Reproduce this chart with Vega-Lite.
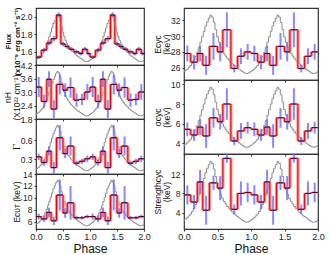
{
"$schema": "https://vega.github.io/schema/vega-lite/v6.json",
"padding": {"left": 2, "top": 6, "right": 2, "bottom": 0},
"config": {
  "view": {"stroke": "#333", "strokeWidth": 1.2},
  "axis": {"grid": false, "domain": false, "tickColor": "#333", "tickSize": 2, "labelFont": "Liberation Sans", "labelFontSize": 8.5, "labelColor": "#222", "labelPadding": 2, "titleFont": "Liberation Sans", "titleFontSize": 8.5, "titleFontWeight": "normal", "titleColor": "#111"}
},
"datasets": {
"prof": [
{"x":0,"n":0.06},{"x":0.025,"n":0.08},{"x":0.05,"n":0.10},{"x":0.075,"n":0.13},{"x":0.1,"n":0.16},{"x":0.125,"n":0.20},{"x":0.15,"n":0.25},{"x":0.175,"n":0.31},{"x":0.2,"n":0.38},{"x":0.225,"n":0.46},
{"x":0.25,"n":0.55},{"x":0.275,"n":0.64},{"x":0.3,"n":0.73},{"x":0.325,"n":0.82},{"x":0.35,"n":0.89},{"x":0.375,"n":0.95},{"x":0.4,"n":1.0},{"x":0.425,"n":0.97},{"x":0.45,"n":0.88},{"x":0.475,"n":0.76},
{"x":0.5,"n":0.64},{"x":0.525,"n":0.55},{"x":0.55,"n":0.47},{"x":0.575,"n":0.41},{"x":0.6,"n":0.36},{"x":0.625,"n":0.32},{"x":0.65,"n":0.28},{"x":0.675,"n":0.25},{"x":0.7,"n":0.22},{"x":0.725,"n":0.19},
{"x":0.75,"n":0.16},{"x":0.775,"n":0.14},{"x":0.8,"n":0.12},{"x":0.825,"n":0.10},{"x":0.85,"n":0.08},{"x":0.875,"n":0.06},{"x":0.9,"n":0.04},{"x":0.925,"n":0.03},{"x":0.95,"n":0.03},{"x":0.975,"n":0.04},
{"x":1,"n":0.06},{"x":1.025,"n":0.08},{"x":1.05,"n":0.10},{"x":1.075,"n":0.13},{"x":1.1,"n":0.16},{"x":1.125,"n":0.20},{"x":1.15,"n":0.25},{"x":1.175,"n":0.31},{"x":1.2,"n":0.38},{"x":1.225,"n":0.46},
{"x":1.25,"n":0.55},{"x":1.275,"n":0.64},{"x":1.3,"n":0.73},{"x":1.325,"n":0.82},{"x":1.35,"n":0.89},{"x":1.375,"n":0.95},{"x":1.4,"n":1.0},{"x":1.425,"n":0.97},{"x":1.45,"n":0.88},{"x":1.475,"n":0.76},
{"x":1.5,"n":0.64},{"x":1.525,"n":0.55},{"x":1.55,"n":0.47},{"x":1.575,"n":0.41},{"x":1.6,"n":0.36},{"x":1.625,"n":0.32},{"x":1.65,"n":0.28},{"x":1.675,"n":0.25},{"x":1.7,"n":0.22},{"x":1.725,"n":0.19},
{"x":1.75,"n":0.16},{"x":1.775,"n":0.14},{"x":1.8,"n":0.12},{"x":1.825,"n":0.10},{"x":1.85,"n":0.08},{"x":1.875,"n":0.06},{"x":1.9,"n":0.04},{"x":1.925,"n":0.03},{"x":1.95,"n":0.03},{"x":1.975,"n":0.04},
{"x":2,"n":0.06}
],
"bins": [
{"p":"fx","a":0,"b":0.1,"c":0.05,"v":1.54,"lo":1.52,"hi":1.56},
{"p":"fx","a":0.1,"b":0.2,"c":0.15,"v":1.62,"lo":1.595,"hi":1.645},
{"p":"fx","a":0.2,"b":0.28,"c":0.24,"v":1.7,"lo":1.675,"hi":1.725},
{"p":"fx","a":0.28,"b":0.38,"c":0.33,"v":1.75,"lo":1.72,"hi":1.78},
{"p":"fx","a":0.38,"b":0.46,"c":0.42,"v":2.02,"lo":1.99,"hi":2.05},
{"p":"fx","a":0.46,"b":0.54,"c":0.5,"v":1.69,"lo":1.665,"hi":1.715},
{"p":"fx","a":0.54,"b":0.61,"c":0.575,"v":1.66,"lo":1.635,"hi":1.685},
{"p":"fx","a":0.61,"b":0.7,"c":0.655,"v":1.63,"lo":1.605,"hi":1.655},
{"p":"fx","a":0.7,"b":0.8,"c":0.75,"v":1.6,"lo":1.575,"hi":1.625},
{"p":"fx","a":0.8,"b":0.86,"c":0.83,"v":1.58,"lo":1.56,"hi":1.6},
{"p":"fx","a":0.86,"b":0.95,"c":0.905,"v":1.63,"lo":1.605,"hi":1.655},
{"p":"fx","a":0.95,"b":1,"c":0.975,"v":1.58,"lo":1.56,"hi":1.6},
{"p":"fx","a":1,"b":1.1,"c":1.05,"v":1.54,"lo":1.52,"hi":1.56},
{"p":"fx","a":1.1,"b":1.2,"c":1.15,"v":1.62,"lo":1.595,"hi":1.645},
{"p":"fx","a":1.2,"b":1.28,"c":1.24,"v":1.7,"lo":1.675,"hi":1.725},
{"p":"fx","a":1.28,"b":1.38,"c":1.33,"v":1.75,"lo":1.72,"hi":1.78},
{"p":"fx","a":1.38,"b":1.46,"c":1.42,"v":2.02,"lo":1.99,"hi":2.05},
{"p":"fx","a":1.46,"b":1.54,"c":1.5,"v":1.69,"lo":1.665,"hi":1.715},
{"p":"fx","a":1.54,"b":1.61,"c":1.575,"v":1.66,"lo":1.635,"hi":1.685},
{"p":"fx","a":1.61,"b":1.7,"c":1.655,"v":1.63,"lo":1.605,"hi":1.655},
{"p":"fx","a":1.7,"b":1.8,"c":1.75,"v":1.6,"lo":1.575,"hi":1.625},
{"p":"fx","a":1.8,"b":1.86,"c":1.83,"v":1.58,"lo":1.56,"hi":1.6},
{"p":"fx","a":1.86,"b":1.95,"c":1.905,"v":1.63,"lo":1.605,"hi":1.655},
{"p":"fx","a":1.95,"b":2,"c":1.975,"v":1.58,"lo":1.56,"hi":1.6},
{"p":"nh","a":0,"b":0.1,"c":0.05,"v":3.22,"lo":2.77,"hi":3.67},
{"p":"nh","a":0.1,"b":0.2,"c":0.15,"v":2.58,"lo":2.28,"hi":2.88},
{"p":"nh","a":0.2,"b":0.28,"c":0.24,"v":3.57,"lo":3.22,"hi":3.92},
{"p":"nh","a":0.28,"b":0.38,"c":0.33,"v":2.24,"lo":1.84,"hi":2.64},
{"p":"nh","a":0.38,"b":0.5,"c":0.44,"v":3.34,"lo":2.89,"hi":3.79},
{"p":"nh","a":0.5,"b":0.58,"c":0.54,"v":3.08,"lo":2.78,"hi":3.38},
{"p":"nh","a":0.58,"b":0.7,"c":0.64,"v":3.2,"lo":2.75,"hi":3.65},
{"p":"nh","a":0.7,"b":0.8,"c":0.75,"v":2.64,"lo":2.34,"hi":2.94},
{"p":"nh","a":0.8,"b":0.9,"c":0.85,"v":2.67,"lo":2.42,"hi":2.92},
{"p":"nh","a":0.9,"b":1,"c":0.95,"v":3.0,"lo":2.65,"hi":3.35},
{"p":"nh","a":1,"b":1.1,"c":1.05,"v":3.22,"lo":2.77,"hi":3.67},
{"p":"nh","a":1.1,"b":1.2,"c":1.15,"v":2.58,"lo":2.28,"hi":2.88},
{"p":"nh","a":1.2,"b":1.28,"c":1.24,"v":3.57,"lo":3.22,"hi":3.92},
{"p":"nh","a":1.28,"b":1.38,"c":1.33,"v":2.24,"lo":1.84,"hi":2.64},
{"p":"nh","a":1.38,"b":1.5,"c":1.44,"v":3.34,"lo":2.89,"hi":3.79},
{"p":"nh","a":1.5,"b":1.58,"c":1.54,"v":3.08,"lo":2.78,"hi":3.38},
{"p":"nh","a":1.58,"b":1.7,"c":1.64,"v":3.2,"lo":2.75,"hi":3.65},
{"p":"nh","a":1.7,"b":1.8,"c":1.75,"v":2.64,"lo":2.34,"hi":2.94},
{"p":"nh","a":1.8,"b":1.9,"c":1.85,"v":2.67,"lo":2.42,"hi":2.92},
{"p":"nh","a":1.9,"b":2,"c":1.95,"v":3.0,"lo":2.65,"hi":3.35},
{"p":"ga","a":0,"b":0.1,"c":0.05,"v":0.34,"lo":0.29,"hi":0.39},
{"p":"ga","a":0.1,"b":0.2,"c":0.15,"v":0.25,"lo":0.2,"hi":0.3},
{"p":"ga","a":0.2,"b":0.28,"c":0.24,"v":0.43,"lo":0.36,"hi":0.5},
{"p":"ga","a":0.28,"b":0.38,"c":0.33,"v":0.17,"lo":0.08,"hi":0.26},
{"p":"ga","a":0.38,"b":0.5,"c":0.44,"v":0.64,"lo":0.44,"hi":0.84},
{"p":"ga","a":0.5,"b":0.58,"c":0.54,"v":0.39,"lo":0.32,"hi":0.46},
{"p":"ga","a":0.58,"b":0.7,"c":0.64,"v":0.51,"lo":0.36,"hi":0.66},
{"p":"ga","a":0.7,"b":0.8,"c":0.75,"v":0.24,"lo":0.2,"hi":0.28},
{"p":"ga","a":0.8,"b":0.9,"c":0.85,"v":0.27,"lo":0.23,"hi":0.31},
{"p":"ga","a":0.9,"b":1,"c":0.95,"v":0.31,"lo":0.26,"hi":0.36},
{"p":"ga","a":1,"b":1.1,"c":1.05,"v":0.34,"lo":0.29,"hi":0.39},
{"p":"ga","a":1.1,"b":1.2,"c":1.15,"v":0.25,"lo":0.2,"hi":0.3},
{"p":"ga","a":1.2,"b":1.28,"c":1.24,"v":0.43,"lo":0.36,"hi":0.5},
{"p":"ga","a":1.28,"b":1.38,"c":1.33,"v":0.17,"lo":0.08,"hi":0.26},
{"p":"ga","a":1.38,"b":1.5,"c":1.44,"v":0.64,"lo":0.44,"hi":0.84},
{"p":"ga","a":1.5,"b":1.58,"c":1.54,"v":0.39,"lo":0.32,"hi":0.46},
{"p":"ga","a":1.58,"b":1.7,"c":1.64,"v":0.51,"lo":0.36,"hi":0.66},
{"p":"ga","a":1.7,"b":1.8,"c":1.75,"v":0.24,"lo":0.2,"hi":0.28},
{"p":"ga","a":1.8,"b":1.9,"c":1.85,"v":0.27,"lo":0.23,"hi":0.31},
{"p":"ga","a":1.9,"b":2,"c":1.95,"v":0.31,"lo":0.26,"hi":0.36},
{"p":"ct","a":0,"b":0.1,"c":0.05,"v":6.9,"lo":6.4,"hi":7.4},
{"p":"ct","a":0.1,"b":0.2,"c":0.15,"v":6.5,"lo":6.0,"hi":7.0},
{"p":"ct","a":0.2,"b":0.28,"c":0.24,"v":7.6,"lo":6.8,"hi":8.4},
{"p":"ct","a":0.28,"b":0.38,"c":0.33,"v":6.2,"lo":5.5,"hi":6.9},
{"p":"ct","a":0.38,"b":0.5,"c":0.44,"v":10.5,"lo":7.9,"hi":13.1},
{"p":"ct","a":0.5,"b":0.58,"c":0.54,"v":7.5,"lo":6.7,"hi":8.3},
{"p":"ct","a":0.58,"b":0.7,"c":0.64,"v":9.2,"lo":6.4,"hi":12.0},
{"p":"ct","a":0.7,"b":0.8,"c":0.75,"v":6.7,"lo":6.4,"hi":7.0},
{"p":"ct","a":0.8,"b":0.9,"c":0.85,"v":6.7,"lo":6.4,"hi":7.0},
{"p":"ct","a":0.9,"b":1,"c":0.95,"v":6.9,"lo":6.6,"hi":7.2},
{"p":"ct","a":1,"b":1.1,"c":1.05,"v":6.9,"lo":6.4,"hi":7.4},
{"p":"ct","a":1.1,"b":1.2,"c":1.15,"v":6.5,"lo":6.0,"hi":7.0},
{"p":"ct","a":1.2,"b":1.28,"c":1.24,"v":7.6,"lo":6.8,"hi":8.4},
{"p":"ct","a":1.28,"b":1.38,"c":1.33,"v":6.2,"lo":5.5,"hi":6.9},
{"p":"ct","a":1.38,"b":1.5,"c":1.44,"v":10.5,"lo":7.9,"hi":13.1},
{"p":"ct","a":1.5,"b":1.58,"c":1.54,"v":7.5,"lo":6.7,"hi":8.3},
{"p":"ct","a":1.58,"b":1.7,"c":1.64,"v":9.2,"lo":6.4,"hi":12.0},
{"p":"ct","a":1.7,"b":1.8,"c":1.75,"v":6.7,"lo":6.4,"hi":7.0},
{"p":"ct","a":1.8,"b":1.9,"c":1.85,"v":6.7,"lo":6.4,"hi":7.0},
{"p":"ct","a":1.9,"b":2,"c":1.95,"v":6.9,"lo":6.6,"hi":7.2},
{"p":"ec","a":0,"b":0.1,"c":0.05,"v":27.8,"lo":26.8,"hi":28.8},
{"p":"ec","a":0.1,"b":0.2,"c":0.15,"v":26.7,"lo":25.8,"hi":27.6},
{"p":"ec","a":0.2,"b":0.28,"c":0.24,"v":27.8,"lo":26.8,"hi":28.8},
{"p":"ec","a":0.28,"b":0.38,"c":0.33,"v":26.3,"lo":25.1,"hi":27.5},
{"p":"ec","a":0.38,"b":0.5,"c":0.44,"v":28.7,"lo":27.0,"hi":30.4},
{"p":"ec","a":0.5,"b":0.58,"c":0.54,"v":28.0,"lo":26.8,"hi":29.2},
{"p":"ec","a":0.58,"b":0.7,"c":0.64,"v":30.8,"lo":28.6,"hi":33.0},
{"p":"ec","a":0.7,"b":0.8,"c":0.75,"v":25.9,"lo":25.4,"hi":26.4},
{"p":"ec","a":0.8,"b":0.9,"c":0.85,"v":27.45,"lo":26.45,"hi":28.45},
{"p":"ec","a":0.9,"b":1,"c":0.95,"v":28.0,"lo":27.0,"hi":29.0},
{"p":"ec","a":1,"b":1.1,"c":1.05,"v":27.8,"lo":26.8,"hi":28.8},
{"p":"ec","a":1.1,"b":1.2,"c":1.15,"v":26.7,"lo":25.8,"hi":27.6},
{"p":"ec","a":1.2,"b":1.28,"c":1.24,"v":27.8,"lo":26.8,"hi":28.8},
{"p":"ec","a":1.28,"b":1.38,"c":1.33,"v":26.3,"lo":25.1,"hi":27.5},
{"p":"ec","a":1.38,"b":1.5,"c":1.44,"v":28.7,"lo":27.0,"hi":30.4},
{"p":"ec","a":1.5,"b":1.58,"c":1.54,"v":28.0,"lo":26.8,"hi":29.2},
{"p":"ec","a":1.58,"b":1.7,"c":1.64,"v":30.8,"lo":28.6,"hi":33.0},
{"p":"ec","a":1.7,"b":1.8,"c":1.75,"v":25.9,"lo":25.4,"hi":26.4},
{"p":"ec","a":1.8,"b":1.9,"c":1.85,"v":27.45,"lo":26.45,"hi":28.45},
{"p":"ec","a":1.9,"b":2,"c":1.95,"v":28.0,"lo":27.0,"hi":29.0},
{"p":"sg","a":0,"b":0.1,"c":0.05,"v":5.43,"lo":4.73,"hi":6.13},
{"p":"sg","a":0.1,"b":0.2,"c":0.15,"v":4.85,"lo":4.25,"hi":5.45},
{"p":"sg","a":0.2,"b":0.28,"c":0.24,"v":5.66,"lo":4.86,"hi":6.46},
{"p":"sg","a":0.28,"b":0.38,"c":0.33,"v":4.75,"lo":3.55,"hi":5.95},
{"p":"sg","a":0.38,"b":0.5,"c":0.44,"v":6.6,"lo":5.6,"hi":7.6},
{"p":"sg","a":0.5,"b":0.58,"c":0.54,"v":6.2,"lo":5.4,"hi":7.0},
{"p":"sg","a":0.58,"b":0.7,"c":0.64,"v":8.0,"lo":6.4,"hi":9.6},
{"p":"sg","a":0.7,"b":0.8,"c":0.75,"v":4.24,"lo":3.84,"hi":4.64},
{"p":"sg","a":0.8,"b":0.9,"c":0.85,"v":5.26,"lo":4.46,"hi":6.06},
{"p":"sg","a":0.9,"b":1,"c":0.95,"v":5.6,"lo":5.0,"hi":6.2},
{"p":"sg","a":1,"b":1.1,"c":1.05,"v":5.43,"lo":4.73,"hi":6.13},
{"p":"sg","a":1.1,"b":1.2,"c":1.15,"v":4.85,"lo":4.25,"hi":5.45},
{"p":"sg","a":1.2,"b":1.28,"c":1.24,"v":5.66,"lo":4.86,"hi":6.46},
{"p":"sg","a":1.28,"b":1.38,"c":1.33,"v":4.75,"lo":3.55,"hi":5.95},
{"p":"sg","a":1.38,"b":1.5,"c":1.44,"v":6.6,"lo":5.6,"hi":7.6},
{"p":"sg","a":1.5,"b":1.58,"c":1.54,"v":6.2,"lo":5.4,"hi":7.0},
{"p":"sg","a":1.58,"b":1.7,"c":1.64,"v":8.0,"lo":6.4,"hi":9.6},
{"p":"sg","a":1.7,"b":1.8,"c":1.75,"v":4.24,"lo":3.84,"hi":4.64},
{"p":"sg","a":1.8,"b":1.9,"c":1.85,"v":5.26,"lo":4.46,"hi":6.06},
{"p":"sg","a":1.9,"b":2,"c":1.95,"v":5.6,"lo":5.0,"hi":6.2},
{"p":"st","a":0,"b":0.1,"c":0.05,"v":7.7,"lo":5.7,"hi":9.7},
{"p":"st","a":0.1,"b":0.2,"c":0.15,"v":6.2,"lo":4.7,"hi":7.7},
{"p":"st","a":0.2,"b":0.28,"c":0.24,"v":10.4,"lo":7.9,"hi":12.9},
{"p":"st","a":0.28,"b":0.38,"c":0.33,"v":4.5,"lo":1.5,"hi":7.5},
{"p":"st","a":0.38,"b":0.5,"c":0.44,"v":10.2,"lo":8.7,"hi":11.7},
{"p":"st","a":0.5,"b":0.58,"c":0.54,"v":9.1,"lo":6.6,"hi":11.6},
{"p":"st","a":0.58,"b":0.7,"c":0.64,"v":15.3,"lo":14.4,"hi":16.2},
{"p":"st","a":0.7,"b":0.8,"c":0.75,"v":4.7,"lo":3.7,"hi":5.7},
{"p":"st","a":0.8,"b":0.9,"c":0.85,"v":8.0,"lo":5.5,"hi":10.5},
{"p":"st","a":0.9,"b":1,"c":0.95,"v":8.2,"lo":6.2,"hi":10.2},
{"p":"st","a":1,"b":1.1,"c":1.05,"v":7.7,"lo":5.7,"hi":9.7},
{"p":"st","a":1.1,"b":1.2,"c":1.15,"v":6.2,"lo":4.7,"hi":7.7},
{"p":"st","a":1.2,"b":1.28,"c":1.24,"v":10.4,"lo":7.9,"hi":12.9},
{"p":"st","a":1.28,"b":1.38,"c":1.33,"v":4.5,"lo":1.5,"hi":7.5},
{"p":"st","a":1.38,"b":1.5,"c":1.44,"v":10.2,"lo":8.7,"hi":11.7},
{"p":"st","a":1.5,"b":1.58,"c":1.54,"v":9.1,"lo":6.6,"hi":11.6},
{"p":"st","a":1.58,"b":1.7,"c":1.64,"v":15.3,"lo":14.4,"hi":16.2},
{"p":"st","a":1.7,"b":1.8,"c":1.75,"v":4.7,"lo":3.7,"hi":5.7},
{"p":"st","a":1.8,"b":1.9,"c":1.85,"v":8.0,"lo":5.5,"hi":10.5},
{"p":"st","a":1.9,"b":2,"c":1.95,"v":8.2,"lo":6.2,"hi":10.2}
]
},
"spacing": 1,
"hconcat": [
{"vconcat": [
 {"width": 108, "height": 57,
  "layer": [
   {"data": {"name": "prof"}, "mark": {"type": "line", "interpolate": "step", "color": "#8c8c8c", "strokeWidth": 1},
    "encoding": {"x": {"field": "x", "type": "quantitative", "scale": {"domain": [0, 2], "nice": false, "zero": false}, "axis": null},
                 "y": {"field": "n", "type": "quantitative", "scale": {"domain": [-0.04, 1.14], "nice": false, "zero": false}, "axis": null}}},
   {"data": {"name": "bins"}, "transform": [{"filter": "datum.p == 'fx'"}, {"window": [{"op": "lead", "field": "v", "as": "vn"}], "sort": [{"field": "a"}]}, {"filter": "datum.vn != null"}],
    "mark": {"type": "rule", "color": "#ff8a8a", "strokeWidth": 3},
    "encoding": {"x": {"field": "b", "type": "quantitative", "axis": {"orient": "bottom", "values": [0, 0.5, 1, 1.5, 2], "labels": false, "title": null}},
                 "y": {"field": "v", "type": "quantitative", "scale": {"domain": [1.45, 2.1], "nice": false, "zero": false},
                       "axis": {"orient": "left", "values": [1.6, 1.8, 2.0], "format": ".1f", "minExtent": 14, "maxExtent": 14, "titlePadding": 1, "title": ["Flux", "(x10⁻⁹ erg cm⁻² s⁻¹)"], "titleFontWeight": "bold", "titleFontSize": 7.5, "titleLineHeight": 8.5, "titleY": 33}},
                 "y2": {"field": "vn"}}},
   {"data": {"name": "bins"}, "transform": [{"filter": "datum.p == 'fx'"}, {"window": [{"op": "lead", "field": "v", "as": "vn"}], "sort": [{"field": "a"}]}, {"filter": "datum.vn != null"}],
    "mark": {"type": "rule", "color": "#f00000", "strokeWidth": 1},
    "encoding": {"x": {"field": "b", "type": "quantitative", "axis": null}, "y": {"field": "v", "type": "quantitative", "scale": {"domain": [1.45, 2.1], "nice": false, "zero": false}, "axis": null}, "y2": {"field": "vn"}}},
   {"data": {"name": "bins"}, "transform": [{"filter": "datum.p == 'fx'"}],
    "mark": {"type": "rule", "color": "#f00000", "strokeWidth": 1.3},
    "encoding": {"x": {"field": "a", "type": "quantitative", "axis": null}, "x2": {"field": "b"}, "y": {"field": "v", "type": "quantitative", "scale": {"domain": [1.45, 2.1], "nice": false, "zero": false}, "axis": null}}},
   {"data": {"name": "bins"}, "transform": [{"filter": "datum.p == 'fx'"}],
    "mark": {"type": "rule", "color": "#6c6cff", "strokeWidth": 2, "opacity": 0.8},
    "encoding": {"x": {"field": "c", "type": "quantitative", "axis": null}, "y": {"field": "lo", "type": "quantitative", "scale": {"domain": [1.45, 2.1], "nice": false, "zero": false}, "axis": null}, "y2": {"field": "hi"}}},
   {"data": {"name": "bins"}, "transform": [{"filter": "datum.p == 'fx'"}],
    "mark": {"type": "tick", "orient": "horizontal", "size": 5, "thickness": 1, "color": "#000"},
    "encoding": {"x": {"field": "c", "type": "quantitative", "axis": null}, "y": {"field": "v", "type": "quantitative", "scale": {"domain": [1.45, 2.1], "nice": false, "zero": false}, "axis": null}}}
  ],
  "resolve": {"scale": {"y": "independent"}, "axis": {"x": "independent"}}},
 {"width": 108, "height": 54,
  "layer": [
   {"data": {"name": "prof"}, "mark": {"type": "line", "interpolate": "step", "color": "#8c8c8c", "strokeWidth": 1},
    "encoding": {"x": {"field": "x", "type": "quantitative", "scale": {"domain": [0, 2], "nice": false, "zero": false}, "axis": null},
                 "y": {"field": "n", "type": "quantitative", "scale": {"domain": [-0.04, 1.14], "nice": false, "zero": false}, "axis": null}}},
   {"data": {"name": "bins"}, "transform": [{"filter": "datum.p == 'nh'"}, {"window": [{"op": "lead", "field": "v", "as": "vn"}], "sort": [{"field": "a"}]}, {"filter": "datum.vn != null"}],
    "mark": {"type": "rule", "color": "#ff8a8a", "strokeWidth": 3},
    "encoding": {"x": {"field": "b", "type": "quantitative", "axis": {"orient": "bottom", "values": [0, 0.5, 1, 1.5, 2], "labels": false, "title": null}},
                 "y": {"field": "v", "type": "quantitative", "scale": {"domain": [1.8, 4.2], "nice": false, "zero": false},
                       "axis": {"orient": "left", "values": [1.8, 2.4, 3.0, 3.6, 4.2], "format": ".1f", "minExtent": 14, "maxExtent": 14, "titlePadding": 1, "title": ["nH", "(X10²² cm⁻²)"], "titleLineHeight": 8.5, "titleY": 32}},
                 "y2": {"field": "vn"}}},
   {"data": {"name": "bins"}, "transform": [{"filter": "datum.p == 'nh'"}, {"window": [{"op": "lead", "field": "v", "as": "vn"}], "sort": [{"field": "a"}]}, {"filter": "datum.vn != null"}],
    "mark": {"type": "rule", "color": "#f00000", "strokeWidth": 1},
    "encoding": {"x": {"field": "b", "type": "quantitative", "axis": null}, "y": {"field": "v", "type": "quantitative", "scale": {"domain": [1.8, 4.2], "nice": false, "zero": false}, "axis": null}, "y2": {"field": "vn"}}},
   {"data": {"name": "bins"}, "transform": [{"filter": "datum.p == 'nh'"}],
    "mark": {"type": "rule", "color": "#f00000", "strokeWidth": 1.3},
    "encoding": {"x": {"field": "a", "type": "quantitative", "axis": null}, "x2": {"field": "b"}, "y": {"field": "v", "type": "quantitative", "scale": {"domain": [1.8, 4.2], "nice": false, "zero": false}, "axis": null}}},
   {"data": {"name": "bins"}, "transform": [{"filter": "datum.p == 'nh'"}],
    "mark": {"type": "rule", "color": "#6c6cff", "strokeWidth": 2, "opacity": 0.8},
    "encoding": {"x": {"field": "c", "type": "quantitative", "axis": null}, "y": {"field": "lo", "type": "quantitative", "scale": {"domain": [1.8, 4.2], "nice": false, "zero": false}, "axis": null}, "y2": {"field": "hi"}}},
   {"data": {"name": "bins"}, "transform": [{"filter": "datum.p == 'nh'"}],
    "mark": {"type": "tick", "orient": "horizontal", "size": 5, "thickness": 1, "color": "#000"},
    "encoding": {"x": {"field": "c", "type": "quantitative", "axis": null}, "y": {"field": "v", "type": "quantitative", "scale": {"domain": [1.8, 4.2], "nice": false, "zero": false}, "axis": null}}}
  ],
  "resolve": {"scale": {"y": "independent"}, "axis": {"x": "independent"}}},
 {"width": 108, "height": 55,
  "layer": [
   {"data": {"name": "prof"}, "mark": {"type": "line", "interpolate": "step", "color": "#8c8c8c", "strokeWidth": 1},
    "encoding": {"x": {"field": "x", "type": "quantitative", "scale": {"domain": [0, 2], "nice": false, "zero": false}, "axis": null},
                 "y": {"field": "n", "type": "quantitative", "scale": {"domain": [-0.04, 1.14], "nice": false, "zero": false}, "axis": null}}},
   {"data": {"name": "bins"}, "transform": [{"filter": "datum.p == 'ga'"}, {"window": [{"op": "lead", "field": "v", "as": "vn"}], "sort": [{"field": "a"}]}, {"filter": "datum.vn != null"}],
    "mark": {"type": "rule", "color": "#ff8a8a", "strokeWidth": 3},
    "encoding": {"x": {"field": "b", "type": "quantitative", "axis": {"orient": "bottom", "values": [0, 0.5, 1, 1.5, 2], "labels": false, "title": null}},
                 "y": {"field": "v", "type": "quantitative", "scale": {"domain": [0.07, 0.935], "nice": false, "zero": false},
                       "axis": {"orient": "left", "values": [0.3, 0.6], "format": ".1f", "minExtent": 14, "maxExtent": 14, "titlePadding": 1, "title": "Γ", "titleFont": "Liberation Serif", "titleFontSize": 11}},
                 "y2": {"field": "vn"}}},
   {"data": {"name": "bins"}, "transform": [{"filter": "datum.p == 'ga'"}, {"window": [{"op": "lead", "field": "v", "as": "vn"}], "sort": [{"field": "a"}]}, {"filter": "datum.vn != null"}],
    "mark": {"type": "rule", "color": "#f00000", "strokeWidth": 1},
    "encoding": {"x": {"field": "b", "type": "quantitative", "axis": null}, "y": {"field": "v", "type": "quantitative", "scale": {"domain": [0.07, 0.935], "nice": false, "zero": false}, "axis": null}, "y2": {"field": "vn"}}},
   {"data": {"name": "bins"}, "transform": [{"filter": "datum.p == 'ga'"}],
    "mark": {"type": "rule", "color": "#f00000", "strokeWidth": 1.3},
    "encoding": {"x": {"field": "a", "type": "quantitative", "axis": null}, "x2": {"field": "b"}, "y": {"field": "v", "type": "quantitative", "scale": {"domain": [0.07, 0.935], "nice": false, "zero": false}, "axis": null}}},
   {"data": {"name": "bins"}, "transform": [{"filter": "datum.p == 'ga'"}],
    "mark": {"type": "rule", "color": "#6c6cff", "strokeWidth": 2, "opacity": 0.8},
    "encoding": {"x": {"field": "c", "type": "quantitative", "axis": null}, "y": {"field": "lo", "type": "quantitative", "scale": {"domain": [0.07, 0.935], "nice": false, "zero": false}, "axis": null}, "y2": {"field": "hi"}}},
   {"data": {"name": "bins"}, "transform": [{"filter": "datum.p == 'ga'"}],
    "mark": {"type": "tick", "orient": "horizontal", "size": 5, "thickness": 1, "color": "#000"},
    "encoding": {"x": {"field": "c", "type": "quantitative", "axis": null}, "y": {"field": "v", "type": "quantitative", "scale": {"domain": [0.07, 0.935], "nice": false, "zero": false}, "axis": null}}}
  ],
  "resolve": {"scale": {"y": "independent"}, "axis": {"x": "independent"}}},
 {"width": 108, "height": 55,
  "layer": [
   {"data": {"name": "prof"}, "mark": {"type": "line", "interpolate": "step", "color": "#8c8c8c", "strokeWidth": 1},
    "encoding": {"x": {"field": "x", "type": "quantitative", "scale": {"domain": [0, 2], "nice": false, "zero": false}, "axis": null},
                 "y": {"field": "n", "type": "quantitative", "scale": {"domain": [-0.04, 1.14], "nice": false, "zero": false}, "axis": null}}},
   {"data": {"name": "bins"}, "transform": [{"filter": "datum.p == 'ct'"}, {"window": [{"op": "lead", "field": "v", "as": "vn"}], "sort": [{"field": "a"}]}, {"filter": "datum.vn != null"}],
    "mark": {"type": "rule", "color": "#ff8a8a", "strokeWidth": 3},
    "encoding": {"x": {"field": "b", "type": "quantitative", "axis": {"orient": "bottom", "values": [0, 0.5, 1, 1.5, 2], "format": ".1f", "labelFlush": false, "labelFontSize": 9, "labelPadding": 1, "title": "Phase", "titleFontSize": 12, "titlePadding": 2}},
                 "y": {"field": "v", "type": "quantitative", "scale": {"domain": [4.83, 14], "nice": false, "zero": false},
                       "axis": {"orient": "left", "values": [6, 8, 10, 12, 14], "format": "d", "minExtent": 14, "maxExtent": 14, "titlePadding": 1, "title": "Eᴄᴜᴛ (keV)"}},
                 "y2": {"field": "vn"}}},
   {"data": {"name": "bins"}, "transform": [{"filter": "datum.p == 'ct'"}, {"window": [{"op": "lead", "field": "v", "as": "vn"}], "sort": [{"field": "a"}]}, {"filter": "datum.vn != null"}],
    "mark": {"type": "rule", "color": "#f00000", "strokeWidth": 1},
    "encoding": {"x": {"field": "b", "type": "quantitative", "axis": null}, "y": {"field": "v", "type": "quantitative", "scale": {"domain": [4.83, 14], "nice": false, "zero": false}, "axis": null}, "y2": {"field": "vn"}}},
   {"data": {"name": "bins"}, "transform": [{"filter": "datum.p == 'ct'"}],
    "mark": {"type": "rule", "color": "#f00000", "strokeWidth": 1.3},
    "encoding": {"x": {"field": "a", "type": "quantitative", "axis": null}, "x2": {"field": "b"}, "y": {"field": "v", "type": "quantitative", "scale": {"domain": [4.83, 14], "nice": false, "zero": false}, "axis": null}}},
   {"data": {"name": "bins"}, "transform": [{"filter": "datum.p == 'ct'"}],
    "mark": {"type": "rule", "color": "#6c6cff", "strokeWidth": 2, "opacity": 0.8},
    "encoding": {"x": {"field": "c", "type": "quantitative", "axis": null}, "y": {"field": "lo", "type": "quantitative", "scale": {"domain": [4.83, 14], "nice": false, "zero": false}, "axis": null}, "y2": {"field": "hi"}}},
   {"data": {"name": "bins"}, "transform": [{"filter": "datum.p == 'ct'"}],
    "mark": {"type": "tick", "orient": "horizontal", "size": 5, "thickness": 1, "color": "#000"},
    "encoding": {"x": {"field": "c", "type": "quantitative", "axis": null}, "y": {"field": "v", "type": "quantitative", "scale": {"domain": [4.83, 14], "nice": false, "zero": false}, "axis": null}}}
  ],
  "resolve": {"scale": {"y": "independent"}, "axis": {"x": "independent"}}}
 ], "spacing": 0, "bounds": "flush"},
{"vconcat": [
 {"width": 134, "height": 72,
  "layer": [
   {"data": {"name": "prof"}, "mark": {"type": "line", "interpolate": "step", "color": "#8c8c8c", "strokeWidth": 1},
    "encoding": {"x": {"field": "x", "type": "quantitative", "scale": {"domain": [0, 2], "nice": false, "zero": false}, "axis": null},
                 "y": {"field": "n", "type": "quantitative", "scale": {"domain": [-0.08, 1.12], "nice": false, "zero": false}, "axis": null}}},
   {"data": {"name": "bins"}, "transform": [{"filter": "datum.p == 'ec'"}, {"window": [{"op": "lead", "field": "v", "as": "vn"}], "sort": [{"field": "a"}]}, {"filter": "datum.vn != null"}],
    "mark": {"type": "rule", "color": "#ff8a8a", "strokeWidth": 3},
    "encoding": {"x": {"field": "b", "type": "quantitative", "axis": {"orient": "bottom", "values": [0, 0.5, 1, 1.5, 2], "labels": false, "title": null}},
                 "y": {"field": "v", "type": "quantitative", "scale": {"domain": [24.44, 33.56], "nice": false, "zero": false},
                       "axis": {"orient": "left", "values": [26, 28, 30, 32], "format": "d", "minExtent": 12, "maxExtent": 12, "titlePadding": 1, "title": ["Ecyc", "(keV)"], "titleLineHeight": 8.5}},
                 "y2": {"field": "vn"}}},
   {"data": {"name": "bins"}, "transform": [{"filter": "datum.p == 'ec'"}, {"window": [{"op": "lead", "field": "v", "as": "vn"}], "sort": [{"field": "a"}]}, {"filter": "datum.vn != null"}],
    "mark": {"type": "rule", "color": "#f00000", "strokeWidth": 1},
    "encoding": {"x": {"field": "b", "type": "quantitative", "axis": null}, "y": {"field": "v", "type": "quantitative", "scale": {"domain": [24.44, 33.56], "nice": false, "zero": false}, "axis": null}, "y2": {"field": "vn"}}},
   {"data": {"name": "bins"}, "transform": [{"filter": "datum.p == 'ec'"}],
    "mark": {"type": "rule", "color": "#f00000", "strokeWidth": 1.3},
    "encoding": {"x": {"field": "a", "type": "quantitative", "axis": null}, "x2": {"field": "b"}, "y": {"field": "v", "type": "quantitative", "scale": {"domain": [24.44, 33.56], "nice": false, "zero": false}, "axis": null}}},
   {"data": {"name": "bins"}, "transform": [{"filter": "datum.p == 'ec'"}],
    "mark": {"type": "rule", "color": "#6c6cff", "strokeWidth": 2, "opacity": 0.8},
    "encoding": {"x": {"field": "c", "type": "quantitative", "axis": null}, "y": {"field": "lo", "type": "quantitative", "scale": {"domain": [24.44, 33.56], "nice": false, "zero": false}, "axis": null}, "y2": {"field": "hi"}}},
   {"data": {"name": "bins"}, "transform": [{"filter": "datum.p == 'ec'"}],
    "mark": {"type": "tick", "orient": "horizontal", "size": 5, "thickness": 1, "color": "#000"},
    "encoding": {"x": {"field": "c", "type": "quantitative", "axis": null}, "y": {"field": "v", "type": "quantitative", "scale": {"domain": [24.44, 33.56], "nice": false, "zero": false}, "axis": null}}}
  ],
  "resolve": {"scale": {"y": "independent"}, "axis": {"x": "independent"}}},
 {"width": 134, "height": 74,
  "layer": [
   {"data": {"name": "prof"}, "mark": {"type": "line", "interpolate": "step", "color": "#8c8c8c", "strokeWidth": 1},
    "encoding": {"x": {"field": "x", "type": "quantitative", "scale": {"domain": [0, 2], "nice": false, "zero": false}, "axis": null},
                 "y": {"field": "n", "type": "quantitative", "scale": {"domain": [-0.08, 1.12], "nice": false, "zero": false}, "axis": null}}},
   {"data": {"name": "bins"}, "transform": [{"filter": "datum.p == 'sg'"}, {"window": [{"op": "lead", "field": "v", "as": "vn"}], "sort": [{"field": "a"}]}, {"filter": "datum.vn != null"}],
    "mark": {"type": "rule", "color": "#ff8a8a", "strokeWidth": 3},
    "encoding": {"x": {"field": "b", "type": "quantitative", "axis": {"orient": "bottom", "values": [0, 0.5, 1, 1.5, 2], "labels": false, "title": null}},
                 "y": {"field": "v", "type": "quantitative", "scale": {"domain": [2.92, 10.44], "nice": false, "zero": false},
                       "axis": {"orient": "left", "values": [4, 6, 8, 10], "format": "d", "minExtent": 12, "maxExtent": 12, "titlePadding": 1, "title": ["σcyc", "(keV)"], "titleLineHeight": 8.5}},
                 "y2": {"field": "vn"}}},
   {"data": {"name": "bins"}, "transform": [{"filter": "datum.p == 'sg'"}, {"window": [{"op": "lead", "field": "v", "as": "vn"}], "sort": [{"field": "a"}]}, {"filter": "datum.vn != null"}],
    "mark": {"type": "rule", "color": "#f00000", "strokeWidth": 1},
    "encoding": {"x": {"field": "b", "type": "quantitative", "axis": null}, "y": {"field": "v", "type": "quantitative", "scale": {"domain": [2.92, 10.44], "nice": false, "zero": false}, "axis": null}, "y2": {"field": "vn"}}},
   {"data": {"name": "bins"}, "transform": [{"filter": "datum.p == 'sg'"}],
    "mark": {"type": "rule", "color": "#f00000", "strokeWidth": 1.3},
    "encoding": {"x": {"field": "a", "type": "quantitative", "axis": null}, "x2": {"field": "b"}, "y": {"field": "v", "type": "quantitative", "scale": {"domain": [2.92, 10.44], "nice": false, "zero": false}, "axis": null}}},
   {"data": {"name": "bins"}, "transform": [{"filter": "datum.p == 'sg'"}],
    "mark": {"type": "rule", "color": "#6c6cff", "strokeWidth": 2, "opacity": 0.8},
    "encoding": {"x": {"field": "c", "type": "quantitative", "axis": null}, "y": {"field": "lo", "type": "quantitative", "scale": {"domain": [2.92, 10.44], "nice": false, "zero": false}, "axis": null}, "y2": {"field": "hi"}}},
   {"data": {"name": "bins"}, "transform": [{"filter": "datum.p == 'sg'"}],
    "mark": {"type": "tick", "orient": "horizontal", "size": 5, "thickness": 1, "color": "#000"},
    "encoding": {"x": {"field": "c", "type": "quantitative", "axis": null}, "y": {"field": "v", "type": "quantitative", "scale": {"domain": [2.92, 10.44], "nice": false, "zero": false}, "axis": null}}}
  ],
  "resolve": {"scale": {"y": "independent"}, "axis": {"x": "independent"}}},
 {"width": 134, "height": 75,
  "layer": [
   {"data": {"name": "prof"}, "mark": {"type": "line", "interpolate": "step", "color": "#8c8c8c", "strokeWidth": 1},
    "encoding": {"x": {"field": "x", "type": "quantitative", "scale": {"domain": [0, 2], "nice": false, "zero": false}, "axis": null},
                 "y": {"field": "n", "type": "quantitative", "scale": {"domain": [-0.08, 1.12], "nice": false, "zero": false}, "axis": null}}},
   {"data": {"name": "bins"}, "transform": [{"filter": "datum.p == 'st'"}, {"window": [{"op": "lead", "field": "v", "as": "vn"}], "sort": [{"field": "a"}]}, {"filter": "datum.vn != null"}],
    "mark": {"type": "rule", "color": "#ff8a8a", "strokeWidth": 3},
    "encoding": {"x": {"field": "b", "type": "quantitative", "axis": {"orient": "bottom", "values": [0, 0.5, 1, 1.5, 2], "format": ".1f", "labelFlush": false, "labelFontSize": 9, "labelPadding": 1, "title": "Phase", "titleFontSize": 12, "titlePadding": 2}},
                 "y": {"field": "v", "type": "quantitative", "scale": {"domain": [0.6, 16.2], "nice": false, "zero": false},
                       "axis": {"orient": "left", "values": [4, 8, 12], "format": "d", "minExtent": 12, "maxExtent": 12, "titlePadding": 1, "title": ["Strengthcyc", "(keV)"], "titleLineHeight": 8.5}},
                 "y2": {"field": "vn"}}},
   {"data": {"name": "bins"}, "transform": [{"filter": "datum.p == 'st'"}, {"window": [{"op": "lead", "field": "v", "as": "vn"}], "sort": [{"field": "a"}]}, {"filter": "datum.vn != null"}],
    "mark": {"type": "rule", "color": "#f00000", "strokeWidth": 1},
    "encoding": {"x": {"field": "b", "type": "quantitative", "axis": null}, "y": {"field": "v", "type": "quantitative", "scale": {"domain": [0.6, 16.2], "nice": false, "zero": false}, "axis": null}, "y2": {"field": "vn"}}},
   {"data": {"name": "bins"}, "transform": [{"filter": "datum.p == 'st'"}],
    "mark": {"type": "rule", "color": "#f00000", "strokeWidth": 1.3},
    "encoding": {"x": {"field": "a", "type": "quantitative", "axis": null}, "x2": {"field": "b"}, "y": {"field": "v", "type": "quantitative", "scale": {"domain": [0.6, 16.2], "nice": false, "zero": false}, "axis": null}}},
   {"data": {"name": "bins"}, "transform": [{"filter": "datum.p == 'st'"}],
    "mark": {"type": "rule", "color": "#6c6cff", "strokeWidth": 2, "opacity": 0.8},
    "encoding": {"x": {"field": "c", "type": "quantitative", "axis": null}, "y": {"field": "lo", "type": "quantitative", "scale": {"domain": [0.6, 16.2], "nice": false, "zero": false}, "axis": null}, "y2": {"field": "hi"}}},
   {"data": {"name": "bins"}, "transform": [{"filter": "datum.p == 'st'"}],
    "mark": {"type": "tick", "orient": "horizontal", "size": 5, "thickness": 1, "color": "#000"},
    "encoding": {"x": {"field": "c", "type": "quantitative", "axis": null}, "y": {"field": "v", "type": "quantitative", "scale": {"domain": [0.6, 16.2], "nice": false, "zero": false}, "axis": null}}}
  ],
  "resolve": {"scale": {"y": "independent"}, "axis": {"x": "independent"}}}
 ], "spacing": 0, "bounds": "flush"}
]
}
